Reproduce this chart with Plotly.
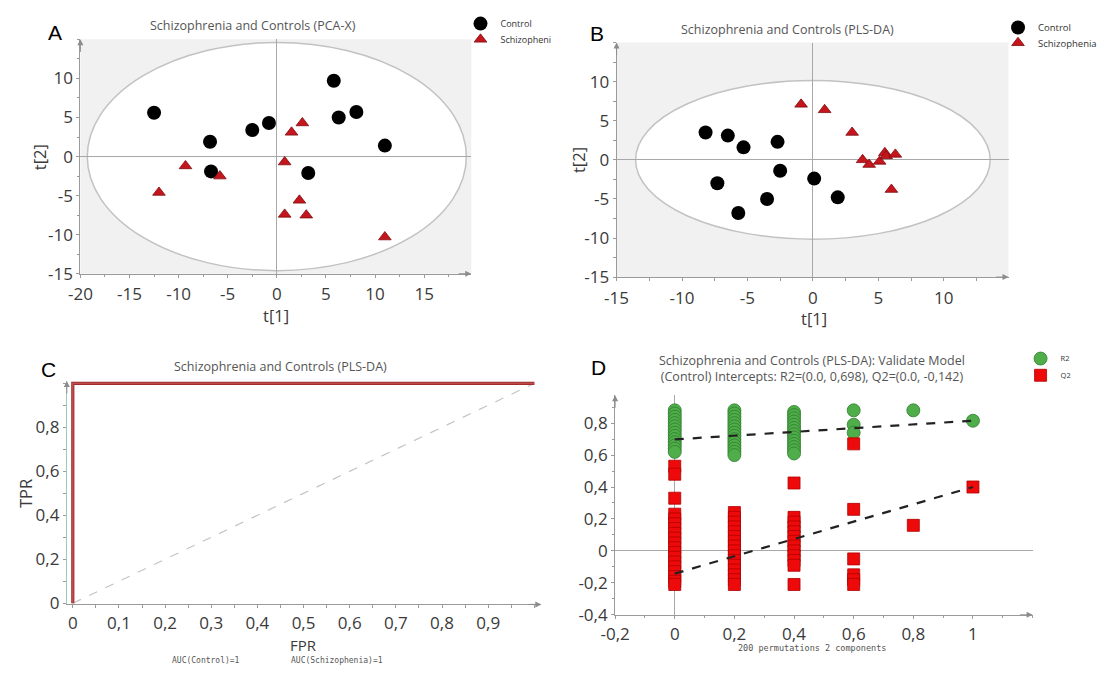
import plotly.graph_objects as go

W, H = 1102, 675

# ---------------- data ----------------
# Panel A: PCA-X scores
a_ctrl_x = [-12.5, -6.8, -6.7, -2.5, -0.8, 5.8, 6.3, 8.1, 11.0, 3.2]
a_ctrl_y = [5.6, 1.9, -1.9, 3.4, 4.3, 9.7, 5.0, 5.7, 1.4, -2.1]
a_scz_x = [-12.0, -9.3, -5.8, 0.8, 1.5, 2.6, 2.3, 0.8, 3.0, 11.0]
a_scz_y = [-4.6, -1.2, -2.5, -0.7, 3.1, 4.3, -5.6, -7.4, -7.5, -10.3]
a_ellipse = (19.3, 14.6)

# Panel B: PLS-DA scores
b_ctrl_x = [-8.2, -6.5, -5.3, -2.7, -2.5, -7.3, -3.5, -5.7, 0.1, 1.9]
b_ctrl_y = [3.5, 3.1, 1.6, 2.3, -1.4, -3.0, -5.0, -6.8, -2.4, -4.8]
b_scz_x = [-0.9, 0.9, 3.0, 3.8, 4.3, 5.1, 5.5, 5.6, 6.3, 6.0]
b_scz_y = [7.1, 6.4, 3.5, 0.0, -0.6, -0.2, 0.9, 0.5, 0.7, -3.8]
b_ellipse = (13.55, 10.15)

# Panel C: ROC
c_fpr = [0, 0, 1]
c_tpr = [0, 1, 1]
c_diag = [0, 1]

# Panel D: permutation test
d_r2_x = ([0.0] * 14) + ([0.2] * 15) + ([0.4] * 14) + [0.6, 0.6, 0.6, 0.8, 1.0]
d_r2_y = [0.88, 0.86, 0.84, 0.82, 0.80, 0.78, 0.76, 0.74, 0.72, 0.70, 0.68, 0.66, 0.64, 0.62,
          0.88, 0.86, 0.84, 0.82, 0.80, 0.78, 0.76, 0.74, 0.72, 0.70, 0.68, 0.66, 0.64, 0.62, 0.60,
          0.87, 0.85, 0.83, 0.81, 0.79, 0.77, 0.75, 0.73, 0.71, 0.69, 0.67, 0.65, 0.63, 0.61,
          0.88, 0.79, 0.74, 0.88, 0.815]
d_q2_x = ([0.0] * 19) + ([0.2] * 16) + ([0.4] * 13) + ([0.6] * 6) + [0.8, 1.0]
d_q2_y = [0.53, 0.48, 0.33, 0.23, 0.20, 0.17, 0.14, 0.11, 0.08, 0.05, 0.02, -0.01, -0.04, -0.07,
          -0.10, -0.13, -0.16, -0.19, -0.21,
          0.24, 0.21, 0.18, 0.15, 0.12, 0.09, 0.06, 0.03, 0.00, -0.03, -0.06, -0.09, -0.12, -0.15,
          -0.18, -0.21,
          0.425, 0.21, 0.18, 0.15, 0.12, 0.09, 0.06, 0.03, 0.00, -0.03, -0.06, -0.09, -0.21,
          0.67, 0.26, -0.05, -0.15, -0.18, -0.21,
          0.16, 0.40]
d_line_x = [0, 1]
d_r2_line = [0.698, 0.815]
d_q2_line = [-0.142, 0.40]

# tick labels
ab_xticks_a = [-20, -15, -10, -5, 0, 5, 10, 15]
ab_xticks_b = [-15, -10, -5, 0, 5, 10]
ab_yticks = [-15, -10, -5, 0, 5, 10]
c_xticks = [0, 0.1, 0.2, 0.3, 0.4, 0.5, 0.6, 0.7, 0.8, 0.9]
c_xtext = ["0", "0,1", "0,2", "0,3", "0,4", "0,5", "0,6", "0,7", "0,8", "0,9"]
c_yticks = [0, 0.2, 0.4, 0.6, 0.8]
c_ytext = ["0", "0,2", "0,4", "0,6", "0,8"]
d_xticks = [-0.2, 0, 0.2, 0.4, 0.6, 0.8, 1]
d_xtext = ["-0,2", "0", "0,2", "0,4", "0,6", "0,8", "1"]
d_yticks = [-0.4, -0.2, 0, 0.2, 0.4, 0.6, 0.8]
d_ytext = ["-0,4", "-0,2", "0", "0,2", "0,4", "0,6", "0,8"]

# ---------------- style ----------------
FONT = "Open Sans"
MONO = "DejaVu Sans Mono"
TICKC = "#3a3a3a"
AXC = "#9a9a9a"
TITLEC = "#555555"


def pxx(p):
    return p / W


def pxy(p):
    return 1 - p / H


def make_axis(dom, rng, tv, tt, minor_dtick, anchor, zeroline=True, linecolor=AXC, standoff=0):
    return dict(domain=dom, range=rng, anchor=anchor, tickmode="array", tickvals=tv, ticktext=tt,
                ticks="outside", ticklen=3, tickcolor=AXC, tickwidth=1,
                ticklabelstandoff=standoff,
                showline=True, linecolor=linecolor, linewidth=1, showgrid=False,
                zeroline=zeroline, zerolinecolor="#a8a8a8", zerolinewidth=1,
                tickfont=dict(family=FONT, size=17, color=TICKC),
                minor=dict(tickmode="linear", tick0=0, dtick=minor_dtick, ticks="outside",
                           ticklen=2.5, tickcolor=AXC, showgrid=False),
                fixedrange=True)


fig = go.Figure()

# Panel A
fig.add_trace(go.Scatter(x=a_ctrl_x, y=a_ctrl_y, mode="markers", name="Control",
                         marker=dict(symbol="circle", size=14, color="black"),
                         xaxis="x", yaxis="y", legend="legend"))
fig.add_trace(go.Scatter(x=a_scz_x, y=a_scz_y, mode="markers", name="Schizopheni",
                         marker=dict(symbol="triangle-up", size=11, color="#c4161c",
                                     line=dict(color="#7d0d10", width=0.8)),
                         xaxis="x", yaxis="y", legend="legend2"))
# Panel B
fig.add_trace(go.Scatter(x=b_ctrl_x, y=b_ctrl_y, mode="markers", name="Control",
                         marker=dict(symbol="circle", size=14, color="black"),
                         xaxis="x2", yaxis="y2", legend="legend3"))
fig.add_trace(go.Scatter(x=b_scz_x, y=b_scz_y, mode="markers", name="Schizophenia",
                         marker=dict(symbol="triangle-up", size=11, color="#c4161c",
                                     line=dict(color="#7d0d10", width=0.8)),
                         xaxis="x2", yaxis="y2", legend="legend4"))
# Panel C
fig.add_trace(go.Scatter(x=c_diag, y=c_diag, mode="lines", showlegend=False,
                         line=dict(color="#c4c4c4", width=1.2, dash="dash"),
                         xaxis="x3", yaxis="y3"))
fig.add_trace(go.Scatter(x=c_fpr, y=c_tpr, mode="lines", showlegend=False, name="Control",
                         line=dict(color="#a02c2c", width=3.2),
                         xaxis="x3", yaxis="y3"))
fig.add_trace(go.Scatter(x=c_fpr, y=c_tpr, mode="lines", showlegend=False, name="Schizophenia",
                         line=dict(color="#c85a5a", width=1.1),
                         xaxis="x3", yaxis="y3"))
# Panel D
fig.add_trace(go.Scatter(x=d_r2_x, y=d_r2_y, mode="markers", name="R2",
                         marker=dict(symbol="circle", size=13, color="#4fae4a",
                                     line=dict(color="#2f7d2c", width=0.8)),
                         xaxis="x4", yaxis="y4", legend="legend5"))
fig.add_trace(go.Scatter(x=d_q2_x, y=d_q2_y, mode="markers", name="Q2",
                         marker=dict(symbol="square", size=12, color="#ee0a0a",
                                     line=dict(color="#b00000", width=0.8)),
                         xaxis="x4", yaxis="y4", legend="legend6"))
fig.add_trace(go.Scatter(x=d_line_x, y=d_r2_line, mode="lines", showlegend=False,
                         line=dict(color="#222222", width=2.2, dash="dash"),
                         xaxis="x4", yaxis="y4"))
fig.add_trace(go.Scatter(x=d_line_x, y=d_q2_line, mode="lines", showlegend=False,
                         line=dict(color="#222222", width=2.2, dash="dash"),
                         xaxis="x4", yaxis="y4"))

# axes
A_x = [pxx(66.8), pxx(466)]
A_y = [pxy(278.3), pxy(40)]
B_x = [pxx(614.4), pxx(1014.7)]
B_y = [pxy(281.7), pxy(43.3)]
C_x = [pxx(52.9), pxx(537.5)]
C_y = [pxy(614.4), pxy(387.4)]
D_x = [pxx(612.9), pxx(1039.3)]
D_y = [pxy(625), pxy(401.7)]

layout = dict(
    width=W, height=H, margin=dict(l=0, r=0, t=0, b=0),
    paper_bgcolor="white", font=dict(family=FONT, color=TICKC),
    xaxis=make_axis(A_x, [-20, 19.8], ab_xticks_a, [str(v) for v in ab_xticks_a], 2.5, "y", standoff=2),
    yaxis=make_axis(A_y, [-15, 15], ab_yticks, [str(v) for v in ab_yticks], 2.5, "x"),
    xaxis2=make_axis(B_x, [-15, 14.95], ab_xticks_b, [str(v) for v in ab_xticks_b], 2.5, "y2", standoff=2),
    yaxis2=make_axis(B_y, [-15, 15], ab_yticks, [str(v) for v in ab_yticks], 2.5, "x2"),
    xaxis3=make_axis(C_x, [-0.013, 1.015], c_xticks, c_xtext, 0.05, "y3", zeroline=False, standoff=0),
    yaxis3=make_axis(C_y, [-0.005, 1.01], c_yticks, c_ytext, 0.1, "x3", zeroline=False,
                     linecolor="#9ccbb8"),
    xaxis4=make_axis(D_x, [-0.2, 1.2], d_xticks, d_xtext, 0.1, "y4", standoff=1),
    yaxis4=make_axis(D_y, [-0.4, 0.975], d_yticks, d_ytext, 0.1, "x4"),
    plot_bgcolor="white",
    showlegend=True,
)
fig.update_layout(**layout)

# grey plotting areas for A and B (rectangles behind the white ellipses)
shapes = []
for xr, yr in (("x", "y"), ("x2", "y2")):
    shapes.append(dict(type="rect", xref=xr + " domain", yref=yr + " domain", x0=0, x1=1, y0=0, y1=1,
                       fillcolor="#f1f1f1", line=dict(width=0), layer="below"))
shapes.append(dict(type="circle", xref="x", yref="y", x0=-a_ellipse[0], x1=a_ellipse[0],
                   y0=-a_ellipse[1], y1=a_ellipse[1], fillcolor="white",
                   line=dict(color="#c2c2c2", width=1.5), layer="below"))
shapes.append(dict(type="circle", xref="x2", yref="y2", x0=-b_ellipse[0], x1=b_ellipse[0],
                   y0=-b_ellipse[1], y1=b_ellipse[1], fillcolor="white",
                   line=dict(color="#c2c2c2", width=1.5), layer="below"))
fig.update_layout(shapes=shapes)


# legends (one per entry, for exact placement)
def leg(xp, yp, size):
    return dict(x=pxx(xp), y=pxy(yp), xanchor="left", yanchor="middle", bgcolor="rgba(0,0,0,0)",
                font=dict(family=FONT, size=size, color="#333333"), borderwidth=0,
                itemclick=False, itemdoubleclick=False)


fig.update_layout(
    legend=leg(455, 24, 9), legend2=leg(455, 40, 9),
    legend3=leg(1004, 28, 9.5), legend4=leg(1004, 43.5, 9.5),
    legend5=leg(1027, 364.5, 7.5), legend6=leg(1027, 381.5, 7.5),
)

annotations = []


def txt(x, y, s, size, color, family=FONT, angle=0, xanchor="center"):
    annotations.append(dict(x=pxx(x), y=pxy(y), xref="paper", yref="paper", text=s, showarrow=False,
                            font=dict(family=family, size=size, color=color), xanchor=xanchor,
                            yanchor="middle", textangle=angle))


# panel letters
txt(41, 33, "A", 21, "black", family="Liberation Sans")
txt(594, 34, "B", 21, "black", family="Liberation Sans")
txt(34, 376, "C", 21, "black", family="Liberation Sans")
txt(596, 374, "D", 21, "black", family="Liberation Sans")
# titles
txt(243, 26, "Schizophrenia and Controls (PCA-X)", 12.5, TITLEC)
txt(789, 29.5, "Schizophrenia and Controls (PLS-DA)", 12.5, TITLEC)
txt(271, 373, "Schizophrenia and Controls (PLS-DA)", 12.5, TITLEC)
txt(814, 375, "Schizophrenia and Controls (PLS-DA): Validate Model<br>(Control) Intercepts: R2=(0.0, 0,698), Q2=(0.0, -0,142)", 12.5, TITLEC)
# axis titles
txt(267, 321, "t[1]", 16.5, TICKC)
txt(25, 159.3, "t[2]", 16.5, TICKC, angle=-90)
txt(816.5, 324, "t[1]", 16.5, TICKC)
txt(575, 162.7, "t[2]", 16.5, TICKC, angle=-90)
txt(295, 655.5, "FPR", 15, TICKC)
txt(11, 501.5, "TPR", 16.5, TICKC, angle=-90)
# notes
txt(195, 671, "AUC(Control)=1", 8, "#555555", family=MONO)
txt(329, 671, "AUC(Schizophenia)=1", 8, "#555555", family=MONO)
txt(814, 659, "200 permutations 2 components", 8.5, "#555555", family=MONO)


# axis arrows
def arrow(xr, yr, x, y, ax, ay):
    annotations.append(dict(x=x, y=y, xref=xr, yref=yr, ax=ax, ay=ay, axref="pixel", ayref="pixel",
                            text="", showarrow=True, arrowhead=2, arrowsize=1.2, arrowwidth=1,
                            arrowcolor="#8c8c8c"))


arrow("x", "y", -20, 15, 0, 14)
arrow("x", "y", 19.8, -15, -14, 0)
arrow("x2", "y2", -15, 15, 0, 14)
arrow("x2", "y2", 14.95, -15, -14, 0)
arrow("x3", "y3", -0.013, 1.01, 0, 14)
arrow("x3", "y3", 1.015, -0.005, -14, 0)
arrow("x4", "y4", -0.2, 0.975, 0, 14)
arrow("x4", "y4", 1.2, -0.4, -14, 0)

fig.update_layout(annotations=annotations)

fig.write_html("out.html")
